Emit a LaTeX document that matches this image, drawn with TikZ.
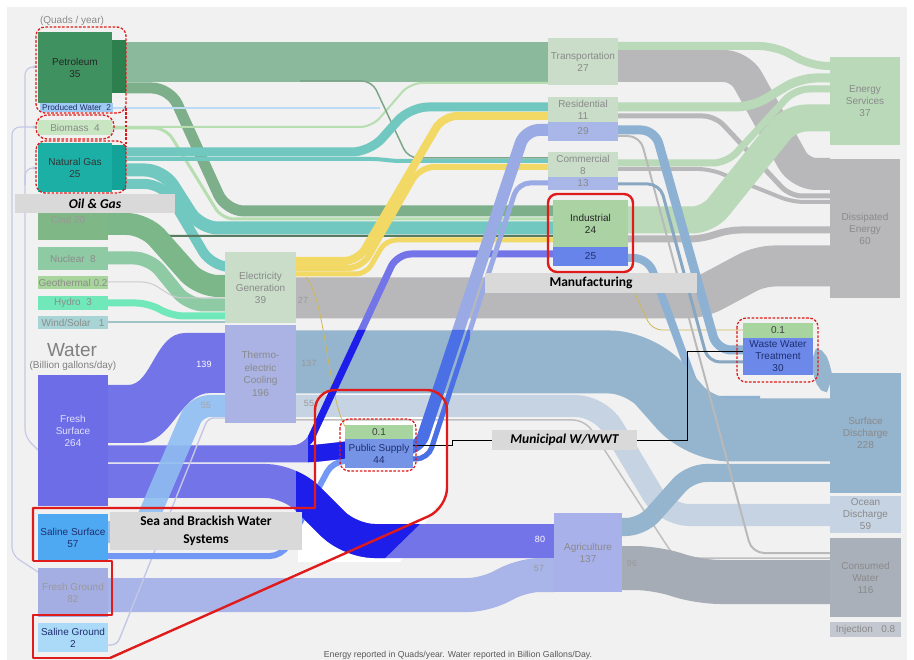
\documentclass[tikz,border=0pt]{standalone}
\usepackage{fontspec}
\setmainfont{Liberation Sans}
\newfontfamily\calib{Carlito}
\usetikzlibrary{arrows.meta}
\definecolor{bg}{HTML}{F1F1F1}
\definecolor{petbox}{HTML}{3F9160}
\definecolor{petstrip}{HTML}{2E7F4E}
\definecolor{petband}{HTML}{8BB99B}
\definecolor{petind}{HTML}{7DAF8B}
\definecolor{prodw}{HTML}{9FCBF2}
\definecolor{biobox}{HTML}{C7E6C1}
\definecolor{bioband}{HTML}{B6DEB0}
\definecolor{ngbox}{HTML}{1CAFA6}
\definecolor{ngstrip}{HTML}{14A399}
\definecolor{ngband}{HTML}{70C8C1}
\definecolor{coalbox}{HTML}{80B786}
\definecolor{coalband}{HTML}{7CB789}
\definecolor{nucbox}{HTML}{8ECAA4}
\definecolor{geobox}{HTML}{A7D59B}
\definecolor{hydbox}{HTML}{70E8BA}
\definecolor{windbox}{HTML}{A9D4D6}
\definecolor{paleg}{HTML}{C9DDC9}
\definecolor{tcbox}{HTML}{AAB3E3}
\definecolor{ylw}{HTML}{F2D865}
\definecolor{dgrey}{HTML}{B8B8BA}
\definecolor{lgreen}{HTML}{B9D9B9}
\definecolor{indbox}{HTML}{AAD2A3}
\definecolor{indw}{HTML}{6784EA}
\definecolor{wlav}{HTML}{A8B7E7}
\definecolor{fsb}{HTML}{7474E9}
\definecolor{fsbox}{HTML}{6D6DE8}
\definecolor{ssbox}{HTML}{4EA9F2}
\definecolor{ssband}{HTML}{8FBDF1}
\definecolor{fgbox}{HTML}{A5AEE3}
\definecolor{fgband}{HTML}{A9B5E8}
\definecolor{sgbox}{HTML}{AADAF8}
\definecolor{bright}{HTML}{1E1EEA}
\definecolor{psmid}{HTML}{4B6FE4}
\definecolor{lavband}{HTML}{9AAAE4}
\definecolor{steel}{HTML}{95B4CD}
\definecolor{steel2}{HTML}{8DB1D3}
\definecolor{paleblue}{HTML}{C6D3E2}
\definecolor{cwbox}{HTML}{AAB0BA}
\definecolor{cwband}{HTML}{A6ACB6}
\definecolor{injbox}{HTML}{C3C7CF}
\definecolor{agbox}{HTML}{A9B1EA}
\definecolor{psg}{HTML}{A8D49F}
\definecolor{psb}{HTML}{7594E6}
\definecolor{wwtb}{HTML}{6C89EA}
\definecolor{txtg}{HTML}{8A8A8A}
\definecolor{annot}{HTML}{D9D9D9}
\definecolor{redl}{HTML}{E01B1B}
\definecolor{paleline}{HTML}{C3C7E6}
\definecolor{navy}{HTML}{1F2F6F}
\tikzset{
  band/.style={line cap=butt, line join=round, rounded corners=#1},
  band/.default=16,
  nbox/.style={inner sep=0pt, outer sep=0pt, align=center, text=txtg},
  ann/.style={fill=annot, inner sep=0pt, align=center, text=black},
  reddash/.style={draw=redl, line width=1.3, dash pattern=on 2.6pt off 1.6pt, rounded corners=9},
  redsolid/.style={draw=redl, line width=2.4, line join=round},
  flownum/.style={font=\fontsize{9}{10}\selectfont, inner sep=0pt},
  paleln/.style={draw=paleline, line width=1.1, rounded corners=8},
}
\begin{document}
\begin{tikzpicture}[x=1pt, y=-1pt, font=\fontsize{10}{12}\selectfont]
\useasboundingbox (0,0) rectangle (914,660);
\fill[white] (0,0) rectangle (914,660);
\fill[bg] (7,7) rectangle (907,660);
% highlight area
\fill[white, rounded corners=18] (315,390) rectangle (447,508);
\fill[white] (298,500) -- (440,500) -- (400,562) -- (298,562) -- cycle;

% pale water-for-energy lines
\draw[paleln, -{Latex[length=4pt,width=3.5pt]}] (38,450) -- (25,437) -- (25,67) -- (37,67);
\draw[paleln, -{Latex[length=4pt,width=3.5pt]}] (38,572) -- (12,555) -- (12,127) -- (37,127);
\draw[paleln, -{Latex[length=4pt,width=3.5pt]}] (25,185) -- (25,168) -- (37,168);

% ===== energy flows =====
\fill[petstrip] (112,40) rectangle (126,93);
\draw[band, petband, line width=40] (126,62) -- (548,62);
\draw[band=18, petind, line width=11] (126,88) -- (170,88) -- (226,211) -- (553,211);
\draw[band=12, bioband, line width=3] (112,128) -- (166,128) -- (222,219) -- (553,219);
\draw[band=12, bioband, line width=2] (112,127) -- (372,127) -- (410,83) -- (548,83);
\draw[band=10, petind!80!gray, line width=1.5] (300,81) -- (372,81) -- (408,158) -- (548,158);
\draw[prodw!70!white, line width=1.2] (113,108) -- (380,108);
\fill[ngstrip] (112,145) rectangle (126,190);
\draw[band=18, ngband, line width=9] (126,152) -- (370,152) -- (410,107) -- (548,107);
\draw[band=8, ngband, line width=4] (126,159) -- (380,159) -- (392,161) -- (548,161);
\draw[band=18, ngband, line width=13] (126,170) -- (163,170) -- (200,228) -- (553,228);
\draw[band=18, ngband, line width=10] (126,184) -- (163,184) -- (212,267) -- (225,267);
\draw[band=10, petind!70!black, line width=2] (108,216) -- (140,216) -- (162,236) -- (553,236);
\draw[band=18, coalband, line width=22] (108,224) -- (145,224) -- (200,286) -- (225,286);
\draw[band=16, nucbox, line width=13] (108,258) -- (150,258) -- (188,305) -- (225,305);
\draw[band=8, gray!40, line width=1] (108,282) -- (150,282) -- (175,298) -- (225,298);
\draw[band=12, hydbox, line width=7] (108,303) -- (148,303) -- (172,316) -- (225,316);
\draw[windbox!80!gray, line width=2] (108,322) -- (225,322);
% electricity outputs
\draw[band=14, dgrey, line width=41] (296,298) -- (700,298) -- (760,266) -- (830,266);
\draw[ylw!85!black, line width=0.8, rounded corners=10] (600,279) -- (628,279) -- (652,330) -- (743,330);
\draw[band=14, ylw, line width=8] (296,261) -- (358,261) -- (443,116) -- (548,116);
\draw[band=14, ylw, line width=6] (296,268) -- (362,268) -- (420,167) -- (548,167);
\draw[band=10, ylw, line width=5] (296,274) -- (366,274) -- (386,240) -- (553,240);
% sectors to services / dissipated
\draw[band=16, dgrey, line width=32] (618,66) -- (740,66) -- (800,174) -- (830,174);
\draw[band=12, dgrey, line width=5] (618,116) -- (715,116) -- (790,196) -- (830,196);
\draw[band=12, dgrey, line width=4] (618,169) -- (710,169) -- (792,202) -- (830,202);
\draw[band=10, dgrey, line width=7] (628,239) -- (700,239) -- (730,230) -- (830,230);
\draw[band=16, lgreen, line width=8] (618,46) -- (775,46) -- (812,66) -- (830,66);
\draw[band=16, lgreen, line width=9] (618,107) -- (752,107) -- (800,78) -- (830,78);
\draw[band=14, lgreen, line width=7] (618,163) -- (727,163) -- (795,89) -- (830,89);
\draw[band=16, lgreen, line width=27] (628,220) -- (708,220) -- (790,118) -- (830,118);

% ===== water flows =====
\draw[band=14, steel2, line width=8] (628,258) -- (648,258) -- (700,400) -- (760,400);
\draw[band=12, gray!50, line width=1.5] (296,420) -- (585,420) -- (675,558) -- (830,558);
\draw[band=30, steel, line width=63] (296,362) -- (640,362) -- (700,430) -- (830,430);
\draw[band=24, paleblue, line width=22] (296,406) -- (600,406) -- (665,515) -- (830,515);
\draw[band=16, steel, line width=18] (622,527) -- (642,527) -- (690,473) -- (830,473);
\draw[band=20, cwband, line width=44] (622,568) -- (655,568) -- (700,582) -- (830,582);
\draw[band=14, steel2, line width=9] (618,130) -- (655,130) -- (717,350) -- (743,350);
\draw[band=12, gray!55, line width=2] (618,136) -- (640,136) -- (752,553) -- (830,553);
\draw[band=12, steel2!80!gray, line width=3] (618,184) -- (660,184) -- (708,362) -- (743,362);
\draw[steel, line width=18] (813,357) .. controls (824,357) and (820,384) .. (830,384);

\fill[fsb] (108,385) -- (128,385) .. controls (152,385) and (155,333) .. (185,333) -- (225,333) -- (225,393) -- (210,393) .. controls (180,393) and (172,443) .. (140,443) -- (108,443) -- cycle;
\draw[band=10, fsb, line width=17] (108,454) -- (310,454) -- (346,450);
\draw[band=24, fsb, line width=34] (108,481) -- (290,481) -- (350,541) -- (554,541);
\draw[band=20, fgband, line width=34] (108,595) -- (488,595) -- (520,575) -- (554,575);
\draw[band=14, fsb, line width=7] (300,449) -- (306,449) -- (397,254) -- (553,254);
\draw[band=14, ssband, line width=22, opacity=0.9] (108,532) -- (142,532) -- (196,406) -- (225,406);
\draw[paleln, line width=1.4, rounded corners=6] (108,645) -- (117,645) -- (208,418) -- (225,418);
\draw[band=12, ssband!80!blue, line width=6] (108,556) -- (282,556) -- (333,461) -- (346,461);
\draw[band=14, lavband, line width=12] (413,449) -- (419,449) -- (525,130) -- (548,130);
\draw[band=12, lavband, line width=5] (413,459) -- (428,459) -- (518,183) -- (548,183);
\draw[ylw!85!black, line width=0.8] (306,277) .. controls (326,300) and (328,400) .. (346,428);
% highlighted part
\begin{scope}
\clip (308,330) -- (470,330) -- (470,505) -- (422,522) -- (378,565) -- (296,565) -- (296,470) -- (308,470) -- cycle;
\draw[band=10, bright, line width=17] (108,454) -- (310,454) -- (346,450);
\draw[band=24, bright, line width=34] (108,481) -- (290,481) -- (350,541) -- (554,541);
\draw[band=14, bright, line width=7] (300,449) -- (306,449) -- (397,254) -- (553,254);
\draw[band=14, psmid, line width=12] (413,449) -- (419,449) -- (525,130) -- (548,130);
\draw[band=12, psmid, line width=5] (413,459) -- (428,459) -- (518,183) -- (548,183);
\end{scope}

% ===== nodes: energy sources =====
\node[nbox, text=txtg] (qy) at (72,21) {(Quads / year)};
\node[nbox, fill=petbox, minimum width=74, minimum height=71, text=black!85] (pet) at (75,67.5) {Petroleum\\35};
\node[nbox, fill=prodw, minimum width=73, minimum height=9, text=navy, font=\fontsize{8.3}{9}\selectfont] (prw) at (76.5,107.5) {Produced Water\ \ 2};
\node[nbox, fill=biobox, minimum width=74, minimum height=15] (bio) at (75,127.5) {Biomass\ \ 4};
\node[nbox, fill=ngbox, minimum width=74, minimum height=49, text=black!80] (ng) at (75,167.5) {Natural Gas\\25};
\node[nbox, fill=coalbox, minimum width=70, minimum height=27] (coal) at (73,226.5) {};
\node[nbox, text=black!40] (coalt) at (68,220) {Coal 20};
\node[nbox, fill=nucbox, minimum width=70, minimum height=23, text=black!45] (nuc) at (73,258.5) {Nuclear\ \ 8};
\node[nbox, fill=geobox, minimum width=70, minimum height=13, text=black!45] (geo) at (73,282.5) {Geothermal 0.2};
\node[nbox, fill=hydbox, minimum width=70, minimum height=14, text=black!45] (hyd) at (73,303) {Hydro\ \ 3};
\node[nbox, fill=windbox, minimum width=70, minimum height=13, text=black!45] (wind) at (73,322.5) {Wind/Solar\ \ \ 1};
% water sources
\node[nbox, text=black!50, font=\fontsize{19}{20}\selectfont] (wat) at (72,350) {Water};
\node[nbox, text=black!50] (bgd) at (73,366) {(Billion gallons/day)};
\node[nbox, fill=fsbox, minimum width=70, minimum height=131] (fs) at (73,440.5) {};
\node[nbox, text=white!88!blue] (fst) at (73,431) {Fresh\\Surface\\264};
\node[nbox, fill=ssbox, minimum width=70, minimum height=47, text=navy] (ss) at (73,537.5) {Saline Surface\\57};
\node[nbox, fill=fgbox, minimum width=70, minimum height=49, text=black!40] (fg) at (73,592.5) {Fresh Ground\\82};
\node[nbox, fill=sgbox, minimum width=70, minimum height=29, text=navy] (sg) at (73,637.5) {Saline Ground\\2};
% middle
\node[nbox, fill=paleg, minimum width=71, minimum height=71] (eg) at (260.5,287.5) {Electricity\\Generation\\39};
\node[nbox, fill=tcbox, minimum width=71, minimum height=98, font=\fontsize{10}{12.5}\selectfont] (tc) at (260.5,374) {Thermo-\\electric\\Cooling\\196};
\node[nbox, fill=paleg, minimum width=70, minimum height=47] (tr) at (583,61.5) {Transportation\\27};
\node[nbox, fill=paleg, minimum width=70, minimum height=25] (res) at (583,109.5) {Residential\\11};
\node[nbox, fill=wlav, minimum width=70, minimum height=19] (resw) at (583,131.5) {29};
\node[nbox, fill=paleg, minimum width=70, minimum height=25] (com) at (583,164.5) {Commercial\\8};
\node[nbox, fill=wlav, minimum width=70, minimum height=13] (comw) at (583,183.5) {13};
\node[nbox, fill=indbox, minimum width=75, minimum height=47, text=black!85] (ind) at (590.5,223.5) {Industrial\\24};
\node[nbox, fill=indw, minimum width=75, minimum height=19, text=navy] (indw) at (590.5,256.5) {25};
\node[nbox, fill=agbox, minimum width=68, minimum height=79] (ag) at (588,552.5) {Agriculture\\137};
\node[nbox, fill=psg, minimum width=68, minimum height=14, text=black!75] (ps1) at (379,432) {0.1};
\node[nbox, fill=psb, minimum width=68, minimum height=29, text=navy] (ps44) at (379,453.5) {Public Supply\\44};
\node[nbox, fill=psg, minimum width=70, minimum height=15, text=black!75] (wwt1) at (778,330.5) {0.1};
\node[nbox, fill=wwtb, minimum width=70, minimum height=37, text=navy] (wwt) at (778,356.5) {Waste Water\\Treatment\\30};
% right
\node[nbox, fill=lgreen, minimum width=70, minimum height=88] (es) at (865,101) {Energy\\Services\\37};
\node[nbox, fill=dgrey, minimum width=70, minimum height=139] (de) at (865,228.5) {Dissipated\\Energy\\60};
\node[nbox, fill=steel, minimum width=71, minimum height=120] (sd) at (865.5,433) {Surface\\Discharge\\228};
\node[nbox, fill=paleblue, minimum width=71, minimum height=37] (od) at (865.5,514.5) {Ocean\\Discharge\\59};
\node[nbox, fill=cwbox, minimum width=71, minimum height=79] (cw) at (865.5,577.5) {Consumed\\Water\\116};
\node[nbox, fill=injbox, minimum width=71, minimum height=15] (inj) at (865.5,629.5) {Injection\ \ \ 0.8};

% flow numbers
\node[flownum, text=white] (n139) at (204,364) {139};
\node[flownum, text=black!35] (n55a) at (206,405) {55};
\node[flownum, text=black!40] (n27) at (303,300) {27};
\node[flownum, text=black!40] (n137) at (309,363) {137};
\node[flownum, text=black!40] (n55b) at (309,403) {55};
\node[flownum, text=white] (n80) at (540,539) {80};
\node[flownum, text=black!40] (n57) at (539,568) {57};
\node[flownum, text=black!40] (n96) at (632,563) {96};

% annotations
\node[ann, minimum width=160, minimum height=19, font=\calib\bfseries\itshape\fontsize{13.5}{15}\selectfont] (oilgas) at (95,203.5) {Oil \& Gas};
\node[ann, minimum width=212, minimum height=20, font=\calib\bfseries\fontsize{13.5}{15}\selectfont] (manu) at (591,283) {Manufacturing};
\node[ann, minimum width=145, minimum height=20, font=\calib\bfseries\itshape\fontsize{13.5}{15}\selectfont] (muni) at (564.5,440) {Municipal W/WWT};
\node[ann, minimum width=192, minimum height=38, font=\calib\bfseries\fontsize{13.5}{18}\selectfont] (sea) at (206,531) {Sea and Brackish Water\\Systems};

% callout lines
\coordinate (psout) at (413,445);
\coordinate (wwtin) at (743,351);
\draw[black, line width=0.9] (psout) -- (452,445) |- (muni.west);
\draw[black, line width=0.9] (muni.east) -- (687,440) |- (wwtin);

% red outlines
\draw[reddash] (36,27) rectangle (126,113);
\draw[reddash, rounded corners=11] (36,115) rectangle (114,139);
\draw[reddash] (36,141) rectangle (126,193);
\draw[reddash, rounded corners=0] (126,108) -- (126,146);
\draw[reddash] (340,419) rectangle (416,471);
\draw[reddash] (737,318) rectangle (818,382);
\draw[redsolid, rounded corners=9] (548,194) rectangle (633,272);
\draw[redsolid] (33,561) -- (33,508) -- (315,508) [rounded corners=20] -- (315,390) -- (447,390) -- (447,508) -- (110,658);
\draw[redsolid] (33,561) -- (112,561) -- (112,615) -- (33,615) -- (33,658) -- (110,658);

% footer
\node[nbox, text=black!65, font=\fontsize{8.7}{10}\selectfont] (foot) at (458,655) {Energy reported in Quads/year. Water reported in Billion Gallons/Day.};
\end{tikzpicture}
\end{document}
